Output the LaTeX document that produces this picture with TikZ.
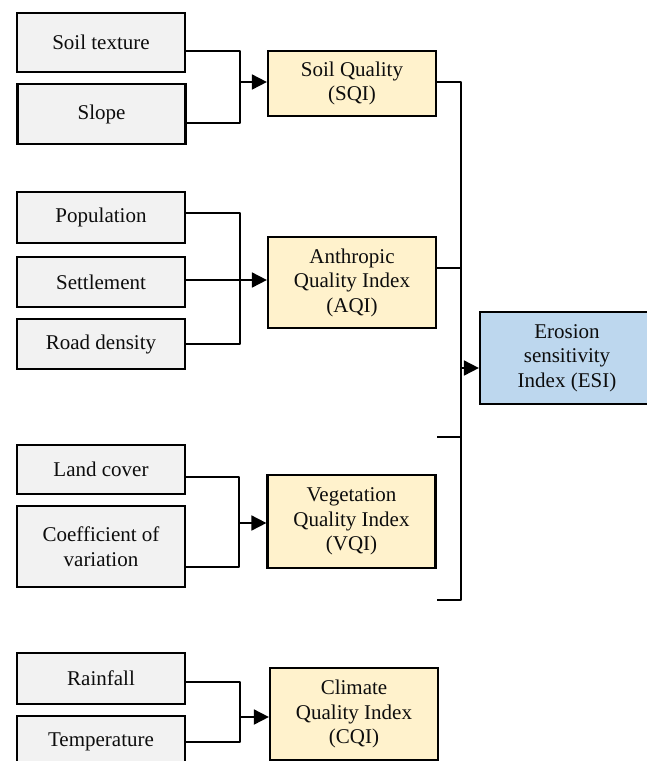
\documentclass[tikz,border=0pt]{standalone}
\usepackage{fontspec}
\setmainfont{Liberation Serif}
\usetikzlibrary{arrows.meta}
\definecolor{inputgray}{HTML}{F2F2F2}
\definecolor{indexyellow}{HTML}{FFF2CC}
\definecolor{esiblue}{HTML}{BDD7EE}

\begin{document}
\begin{tikzpicture}[x=1pt, y=-1pt]
\tikzset{box/.style={rectangle, draw=black, line width=2.2pt, align=center, inner sep=0pt, minimum width=168pt, font=\fontsize{21}{24.5}\selectfont, text=black!95},
  inbox/.style={box, fill=inputgray}, qibox/.style={box, fill=indexyellow},
  esibox/.style={box, fill=esiblue, minimum width=174pt},
  conn/.style={line width=1.8pt, line join=round},
  arr/.style={conn, -{Triangle[length=15pt, width=15pt]}}}
% Normalize bounding box
\useasboundingbox (0,0) rectangle (646,761);

% input layers
\node[inbox, minimum height=59pt] (soiltex) at (101,42.5) {Soil texture};
\node[inbox, minimum height=60pt] (slope) at (101.5,114) {Slope};
\node[inbox, minimum height=51pt] (pop) at (101,217.5) {Population};
\node[inbox, minimum height=50pt] (settle) at (101,282) {Settlement};
\node[inbox, minimum height=50pt] (road) at (101,344) {Road density};
\node[inbox, minimum height=49pt] (land) at (101,469.5) {Land cover};
\node[inbox, minimum height=81pt] (coef) at (101,546.5) {Coefficient of\\variation};
\node[inbox, minimum height=51pt] (rain) at (101,678.5) {Rainfall};
\node[inbox, minimum height=52pt] (temp) at (101,742) {Temperature};

% quality indices
\node[qibox, minimum height=65pt] (sqi) at (352,83.5) {Soil Quality\\(SQI)};
\node[qibox, minimum height=91pt] (aqi) at (352,282.5) {Anthropic\\Quality Index\\(AQI)};
\node[qibox, minimum height=93pt] (vqi) at (351.5,521.5) {Vegetation\\Quality Index\\(VQI)};
\node[qibox, minimum height=92pt] (cqi) at (354,714) {Climate\\Quality Index\\(CQI)};
\node[esibox, minimum height=92pt] (esi) at (567,358) {Erosion\\sensitivity\\Index (ESI)};

% junctions
\coordinate (js) at (240,82);
\coordinate (ja) at (240,280);
\coordinate (jv) at (239,523);
\coordinate (jc) at (240,717);
\coordinate (bustop) at (461,82);
\coordinate (busbot) at (461,600);
\coordinate (stubv) at (437,437);
\coordinate (stubc) at (437,600);

\draw[conn] ([yshift=-8.5pt]soiltex.east) -| (js);
\draw[conn] ([yshift=-9pt]slope.east) -| (js);
\draw[arr] (js) -- (sqi.west |- js);

\draw[conn] ([yshift=4.5pt]pop.east) -| (ja);
\draw[conn] (road.east) -| (ja);
\draw[arr] ([yshift=2pt]settle.east) -- (aqi.west |- ja);

\draw[conn] ([yshift=-7.5pt]land.east) -| (jv);
\draw[conn] ([yshift=-20.5pt]coef.east) -| (jv);
\draw[arr] (jv) -- (vqi.west |- jv);

\draw[conn] ([yshift=-3.5pt]rain.east) -| (jc);
\draw[conn] (temp.east) -| (jc);
\draw[arr] (jc) -- (cqi.west |- jc);

% bus to ESI
\draw[conn] (sqi.east |- bustop) -- (bustop) -- (busbot) -- (stubc);
\draw[conn] ([yshift=14.5pt]aqi.east) -- ++(24,0);
\draw[conn] (stubv) -- (stubv -| bustop);
\draw[arr] ([yshift=-10pt]esi.west -| bustop) -- ([yshift=-10pt]esi.west);

\end{tikzpicture}
\end{document}
